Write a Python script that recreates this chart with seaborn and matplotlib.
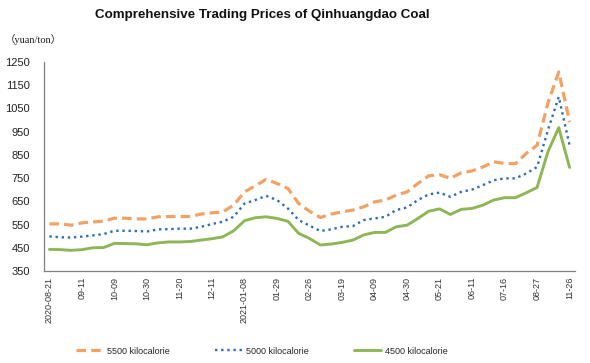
import matplotlib
matplotlib.use("Agg")
import matplotlib.pyplot as plt
import seaborn as sns
import pandas as pd
import numpy as np

# weekly dates (display labels)
dates = ["2020-08-21", "08-28", "09-04", "09-11", "09-18", "09-25", "10-09", "10-16",
         "10-23", "10-30", "11-06", "11-13", "11-20", "11-27", "12-04", "12-11",
         "12-18", "12-25", "2021-01-08", "01-15", "01-22", "01-29", "02-05", "02-19",
         "02-26", "03-05", "03-12", "03-19", "03-26", "04-02", "04-09", "04-16",
         "04-23", "04-30", "05-07", "05-14", "05-21", "05-28", "06-04", "06-11",
         "06-18", "06-25", "07-16", "07-30", "08-13", "08-27", "09-24", "10-22",
         "11-26"]

price_5500 = [553, 554, 548, 558, 562, 565, 578, 578, 575, 575, 584, 585, 585, 585,
              596, 601, 605, 634, 691, 717, 745, 727, 706, 641, 608, 581, 596, 605,
              613, 627, 648, 656, 677, 691, 727, 760, 765, 749, 773, 781, 798, 820,
              813, 812, 856, 891, 1072, 1206, 991]
price_5000 = [500, 496, 495, 499, 504, 510, 524, 524, 523, 521, 530, 531, 533, 533,
              541, 553, 563, 584, 641, 656, 674, 656, 620, 570, 546, 523, 530, 541,
              544, 570, 577, 584, 613, 624, 656, 680, 688, 670, 691, 701, 720, 741,
              749, 749, 770, 798, 956, 1099, 891]
price_4500 = [444, 443, 440, 443, 451, 452, 470, 469, 468, 464, 472, 476, 476, 478,
              484, 490, 498, 524, 567, 580, 584, 577, 565, 513, 491, 463, 467, 474,
              484, 506, 517, 517, 541, 548, 577, 608, 618, 594, 616, 620, 634, 656,
              666, 666, 687, 710, 863, 967, 796]

series_names = ["5500 kilocalorie", "5000 kilocalorie", "4500 kilocalorie"]

df = pd.DataFrame({"pos": np.arange(len(dates)), "date": dates,
                   "5500": price_5500, "5000": price_5000, "4500": price_4500})

sns.set_style("white")
plt.rcParams['font.family'] = ['Liberation Sans', 'DejaVu Sans']

fig = plt.figure(figsize=(5.9, 3.63), dpi=100)
ax = fig.add_axes([44 / 590, 1 - 271.3 / 363, 531 / 590, 209.6 / 363])

sns.lineplot(data=df, x="pos", y="5500", ax=ax, color="#F2A264", linewidth=2.3,
             linestyle=(0, (3, 1.6)), label=series_names[0])
sns.lineplot(data=df, x="pos", y="5000", ax=ax, color="#2E6DB4", linewidth=1.7,
             linestyle=(0, (1, 1.6)), label=series_names[1])
sns.lineplot(data=df, x="pos", y="4500", ax=ax, color="#8FB656", linewidth=2.1,
             label=series_names[2])

ax.set_xlim(-0.5, len(dates) - 0.5)
ax.set_ylim(350, 1250)
ax.set_yticks(range(350, 1251, 100))
ax.set_xticks(df["pos"][::3])
ax.set_xticklabels(df["date"][::3], rotation=90, fontsize=6.5, color="#333333")
ax.set_xticks(np.arange(0.5, len(dates), 3), minor=True)
ax.tick_params(axis="x", which="major", length=0, pad=4)
ax.tick_params(axis="x", which="minor", length=3, direction="in", color="#808080")
ax.tick_params(axis="y", length=3, direction="in", labelsize=8, color="#808080",
               labelcolor="#222222", pad=10)
ax.set_xlabel("")
ax.set_ylabel("")
for s in ["top", "right"]:
    ax.spines[s].set_visible(False)
for s in ["left", "bottom"]:
    ax.spines[s].set_color("#808080")
    ax.spines[s].set_linewidth(0.9)

handles, labels = ax.get_legend_handles_labels()
ax.get_legend().remove()
fig.legend(handles, labels, loc="center", bbox_to_anchor=(262 / 590, 1 - 351 / 363),
           ncol=3, frameon=False, fontsize=6.5, handlelength=3.0, columnspacing=5.0,
           handletextpad=0.45)

fig.text(262 / 590, 1 - 15 / 363, "Comprehensive Trading Prices of Qinhuangdao Coal",
         ha="center", va="center", fontsize=9.6, fontweight="bold", color="#111111")
fig.text(5 / 590, 1 - 40 / 363, "（yuan/ton）", ha="left", va="center", fontsize=7.5,
         family=["Liberation Serif", "Noto Sans CJK SC"], color="#222222")

fig.savefig("out.png", dpi=100)
